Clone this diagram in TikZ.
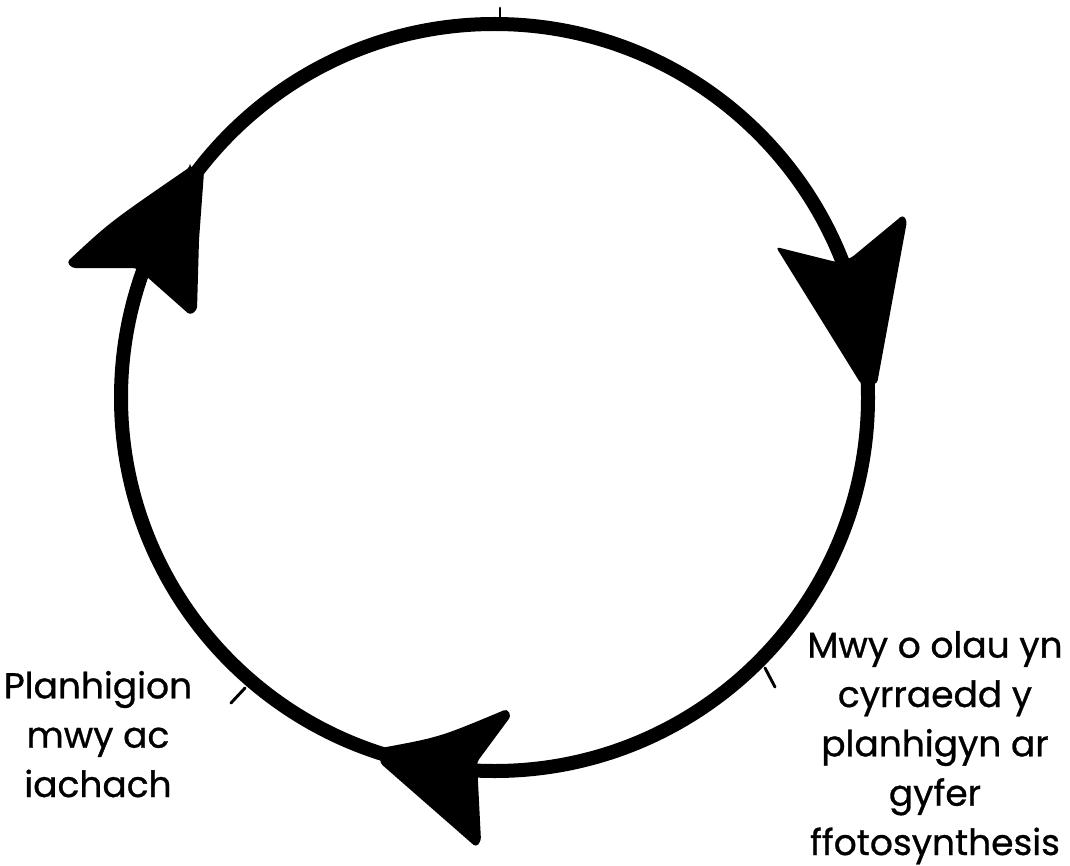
\documentclass[tikz,border=0pt]{standalone}
\usepackage{fontspec}
\setmainfont[FakeBold=0.8]{Poppins}
\usetikzlibrary{positioning}

\begin{document}
\begin{tikzpicture}[
    x=0.75pt, y=-0.75pt,
    ring/.style={draw, line width=10.5pt},
    tick/.style={draw, line width=2.2pt, line cap=round},
    head/.style={fill=black, rounded corners=2.5pt},
    cyclelabel/.style={align=center, inner sep=0pt,
                       font=\fontsize{27}{37}\selectfont}
]
  \useasboundingbox (0,0) rectangle (1070,866);
  \coordinate (c) at (494.5,397.5);

  % the cycle
  \draw[ring] (c) circle[radius=373.5];

  % arrow heads, clockwise
  \fill[head] (190,167) -- (204,172) -- (199,240) -- (197,310) -- (190,315)
     -- (146,276) -- (136,268) -- (72,268) -- (67,262)
     .. controls (110,222) .. (190,167) -- cycle;
  \fill[head] (776,247) -- (836,262) -- (851,258) -- (903,215) -- (907,221)
     -- (877,384) -- (861,384) -- cycle;
  \fill[head] (381,748) .. controls (440,737) .. (507,709) -- (511,716)
     -- (477,762) -- (481,841) -- (476,847) -- (380,763) -- cycle;

  % small ticks on the ring
  \draw[tick] (500,8) -- (500,20);
  \draw[tick] (231,703) -- (245,688);
  \draw[tick] (765,668) -- (775,687);

  % labels (base = last line)
  \node[cyclelabel, anchor=base] (plants) at (98,797)
    {Planhigion\\mwy ac\\iachach};
  \node[cyclelabel, anchor=base] (light) at (935,855)
    {Mwy o olau yn\\cyrraedd y\\planhigyn ar\\gyfer\\ffotosynthesis};
\end{tikzpicture}
\end{document}
